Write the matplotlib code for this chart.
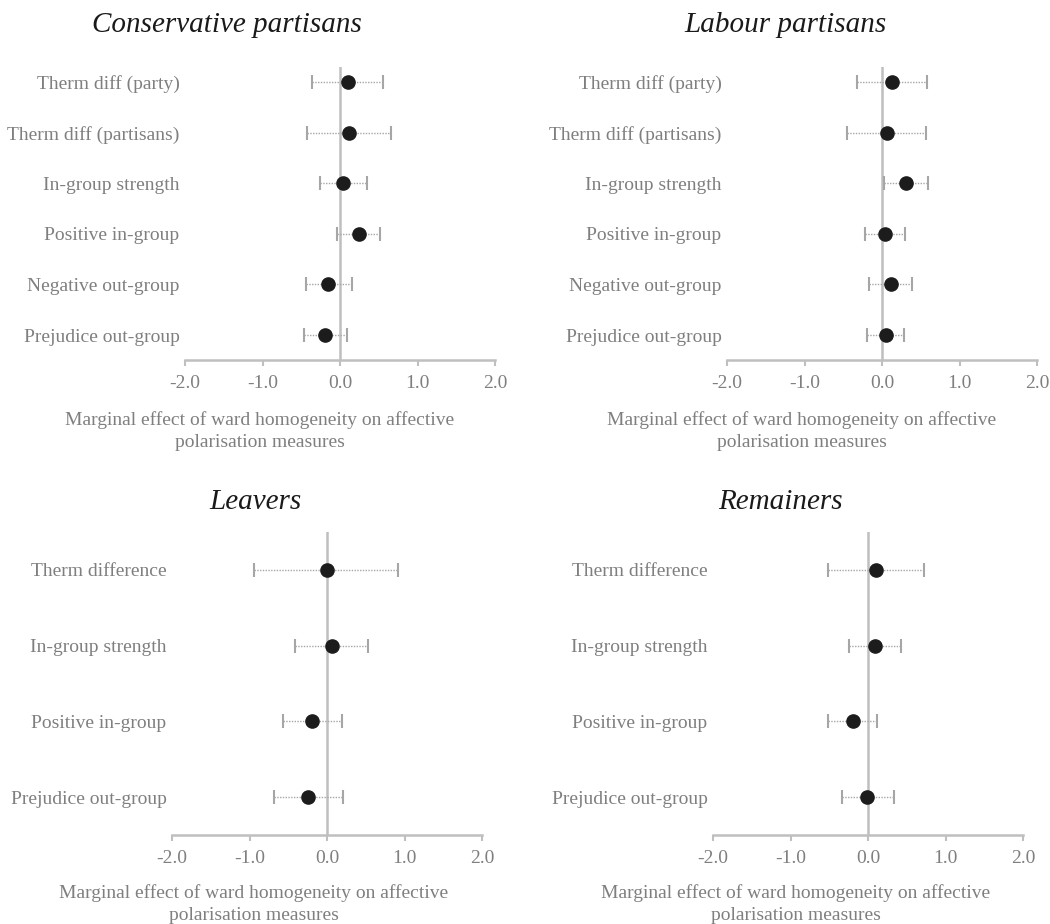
import matplotlib.pyplot as plt
import numpy as np

plt.rcParams['font.family'] = ['Liberation Serif', 'DejaVu Serif']

# party panels
party_labels = ["Therm diff (party)", "Therm diff (partisans)", "In-group strength",
                "Positive in-group", "Negative out-group", "Prejudice out-group"]
con_est = [0.10, 0.12, 0.04, 0.24, -0.15, -0.19]
con_lo = [-0.36, -0.43, -0.26, -0.04, -0.44, -0.46]
con_hi = [0.56, 0.66, 0.35, 0.52, 0.15, 0.09]

lab_est = [0.13, 0.06, 0.31, 0.04, 0.12, 0.05]
lab_lo = [-0.32, -0.45, 0.03, -0.22, -0.17, -0.20]
lab_hi = [0.58, 0.57, 0.59, 0.30, 0.39, 0.29]

# brexit panels
brexit_labels = ["Therm difference", "In-group strength", "Positive in-group", "Prejudice out-group"]
leave_est = [0.00, 0.06, -0.19, -0.24]
leave_lo = [-0.94, -0.41, -0.57, -0.68]
leave_hi = [0.92, 0.53, 0.19, 0.21]

remain_est = [0.10, 0.09, -0.20, -0.01]
remain_lo = [-0.52, -0.24, -0.51, -0.34]
remain_hi = [0.72, 0.43, 0.12, 0.33]

xticks = [-2.0, -1.0, 0.0, 1.0, 2.0]
xlab = "Marginal effect of ward homogeneity on affective\npolarisation measures"

W, H = 1050, 924
GRID = "#bfbfbf"
TXT = "#7f7f7f"

fig = plt.figure(figsize=(W / 100, H / 100), dpi=100)


def panel(x0, x1, ytop, ybot, title, tpos, lpos, labels, est, lo, hi, ylim):
    ax = fig.add_axes([x0 / W, 1 - ybot / H, (x1 - x0) / W, (ybot - ytop) / H])
    y = np.arange(len(labels))
    est = np.array(est)
    err = [est - np.array(lo), np.array(hi) - est]
    ax.axvline(0, color=GRID, lw=1.8, zorder=1)
    eb = ax.errorbar(est, y, xerr=err, fmt='none', ecolor="#a6a6a6", elinewidth=1.0,
                     capsize=5, capthick=1.5, zorder=2)
    eb[2][0].set_linestyle((0, (1, 1)))
    ax.plot(est, y, 'o', color="#1c1c1c", markersize=9.5, zorder=3)
    ax.set_xlim(-2, 2)
    ax.set_ylim(*ylim)
    ax.set_xticks(xticks)
    ax.set_xticklabels(["%.1f" % v for v in xticks])
    ax.set_yticks(y)
    ax.set_yticklabels(labels)
    for s in ['top', 'right', 'left']:
        ax.spines[s].set_visible(False)
    ax.spines['bottom'].set_color(GRID)
    ax.spines['bottom'].set_linewidth(1.8)
    ax.tick_params(axis='x', direction='out', length=4, width=1.5, color=GRID,
                   labelsize=14, labelcolor=TXT, pad=7)
    ax.tick_params(axis='y', length=0, labelsize=14, labelcolor=TXT, pad=4)
    fig.text(tpos[0] / W, 1 - tpos[1] / H, title, ha='center', va='center',
             fontsize=21, style='italic', color="#1a1a1a")
    fig.text(lpos[0] / W, 1 - lpos[1] / H, xlab, ha='center', va='center',
             fontsize=14, color=TXT, linespacing=1.35)
    return ax


top_ylim = (5.494, -0.296)
bot_ylim = (3.5, -0.5)

panel(185, 495, 67, 360, "Conservative partisans", (227, 25), (260, 431),
      party_labels, con_est, con_lo, con_hi, top_ylim)
panel(727, 1037, 67, 360, "Labour partisans", (785, 25), (802, 431),
      party_labels, lab_est, lab_lo, lab_hi, top_ylim)
panel(172, 482, 532, 835, "Leavers", (255, 502), (254, 904),
      brexit_labels, leave_est, leave_lo, leave_hi, bot_ylim)
panel(713, 1023, 532, 835, "Remainers", (780, 502), (796, 904),
      brexit_labels, remain_est, remain_lo, remain_hi, bot_ylim)

fig.savefig("out.png", dpi=100)
